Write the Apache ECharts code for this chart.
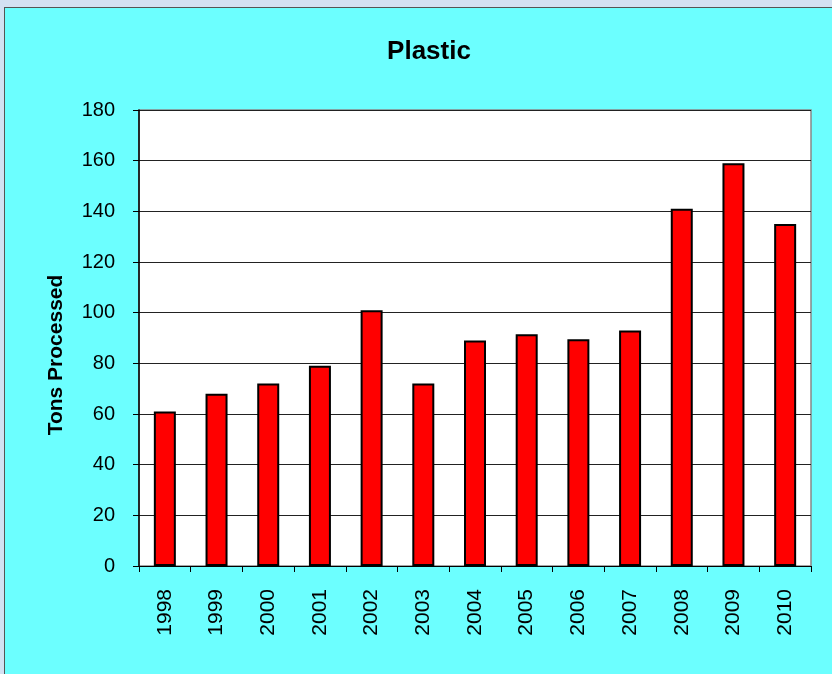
<!DOCTYPE html>
<html><head><meta charset="utf-8">
<script src="https://cdn.jsdelivr.net/npm/echarts@6/dist/echarts.min.js"></script>
<style>
html,body{margin:0;padding:0;background:#d3e1f2;}
#frame{position:absolute;left:4px;top:7px;width:840px;height:680px;background:#6cffff;border:1px solid #555;box-sizing:border-box;}
#c{position:absolute;left:0;top:0;width:832px;height:674px;}
</style></head>
<body>
<div id="frame"></div>
<div id="c"></div>
<script>
const categories = ['1998','1999','2000','2001','2002','2003','2004','2005','2006','2007','2008','2009','2010'];
const tons = [61, 68, 72, 79, 101, 72, 89, 91.5, 89.5, 93, 141, 159, 135];
const chartTitle = 'Plastic';
const yName = 'Tons Processed';

const chart = echarts.init(document.getElementById('c'));
chart.setOption({
  backgroundColor: 'transparent',
  animation: false,
  title: {
    text: chartTitle, left: 424, top: 34, textAlign: 'center',
    textStyle: {fontFamily: 'Liberation Sans, Arial', fontWeight: 'bold', fontSize: 26, color: '#000'}
  },
  graphic: [{
    type: 'text', x: 56, y: 355, rotation: Math.PI / 2,
    style: {text: yName, align: 'center', verticalAlign: 'middle',
      font: 'bold 21px "Liberation Sans", Arial', fill: '#000'}
  }],
  grid: {left: 139, top: 110, right: 21, bottom: 108, show: true, backgroundColor: '#fff', borderColor: '#888', borderWidth: 1.5},
  xAxis: {
    type: 'category', data: categories,
    axisLine: {lineStyle: {color: '#000', width: 1}},
    axisTick: {show: true, alignWithLabel: false, length: 6, lineStyle: {color: '#000'}},
    axisLabel: {rotate: 90, margin: 23, fontFamily: 'Liberation Sans, Arial', fontSize: 21, color: '#000'}
  },
  yAxis: {
    type: 'value', min: 0, max: 180, interval: 20,
    axisLine: {show: true, lineStyle: {color: '#000', width: 1.5}},
    axisTick: {show: true, length: 6, lineStyle: {color: '#000'}},
    axisLabel: {margin: 24, fontFamily: 'Liberation Sans, Arial', fontSize: 20, color: '#000'},
    splitLine: {lineStyle: {color: '#222', width: 1}}
  },
  series: [{
    type: 'bar', data: tons, barWidth: 22,
    itemStyle: {color: '#ff0000', borderColor: '#000', borderWidth: 2}
  }]
});
</script>
</body></html>
